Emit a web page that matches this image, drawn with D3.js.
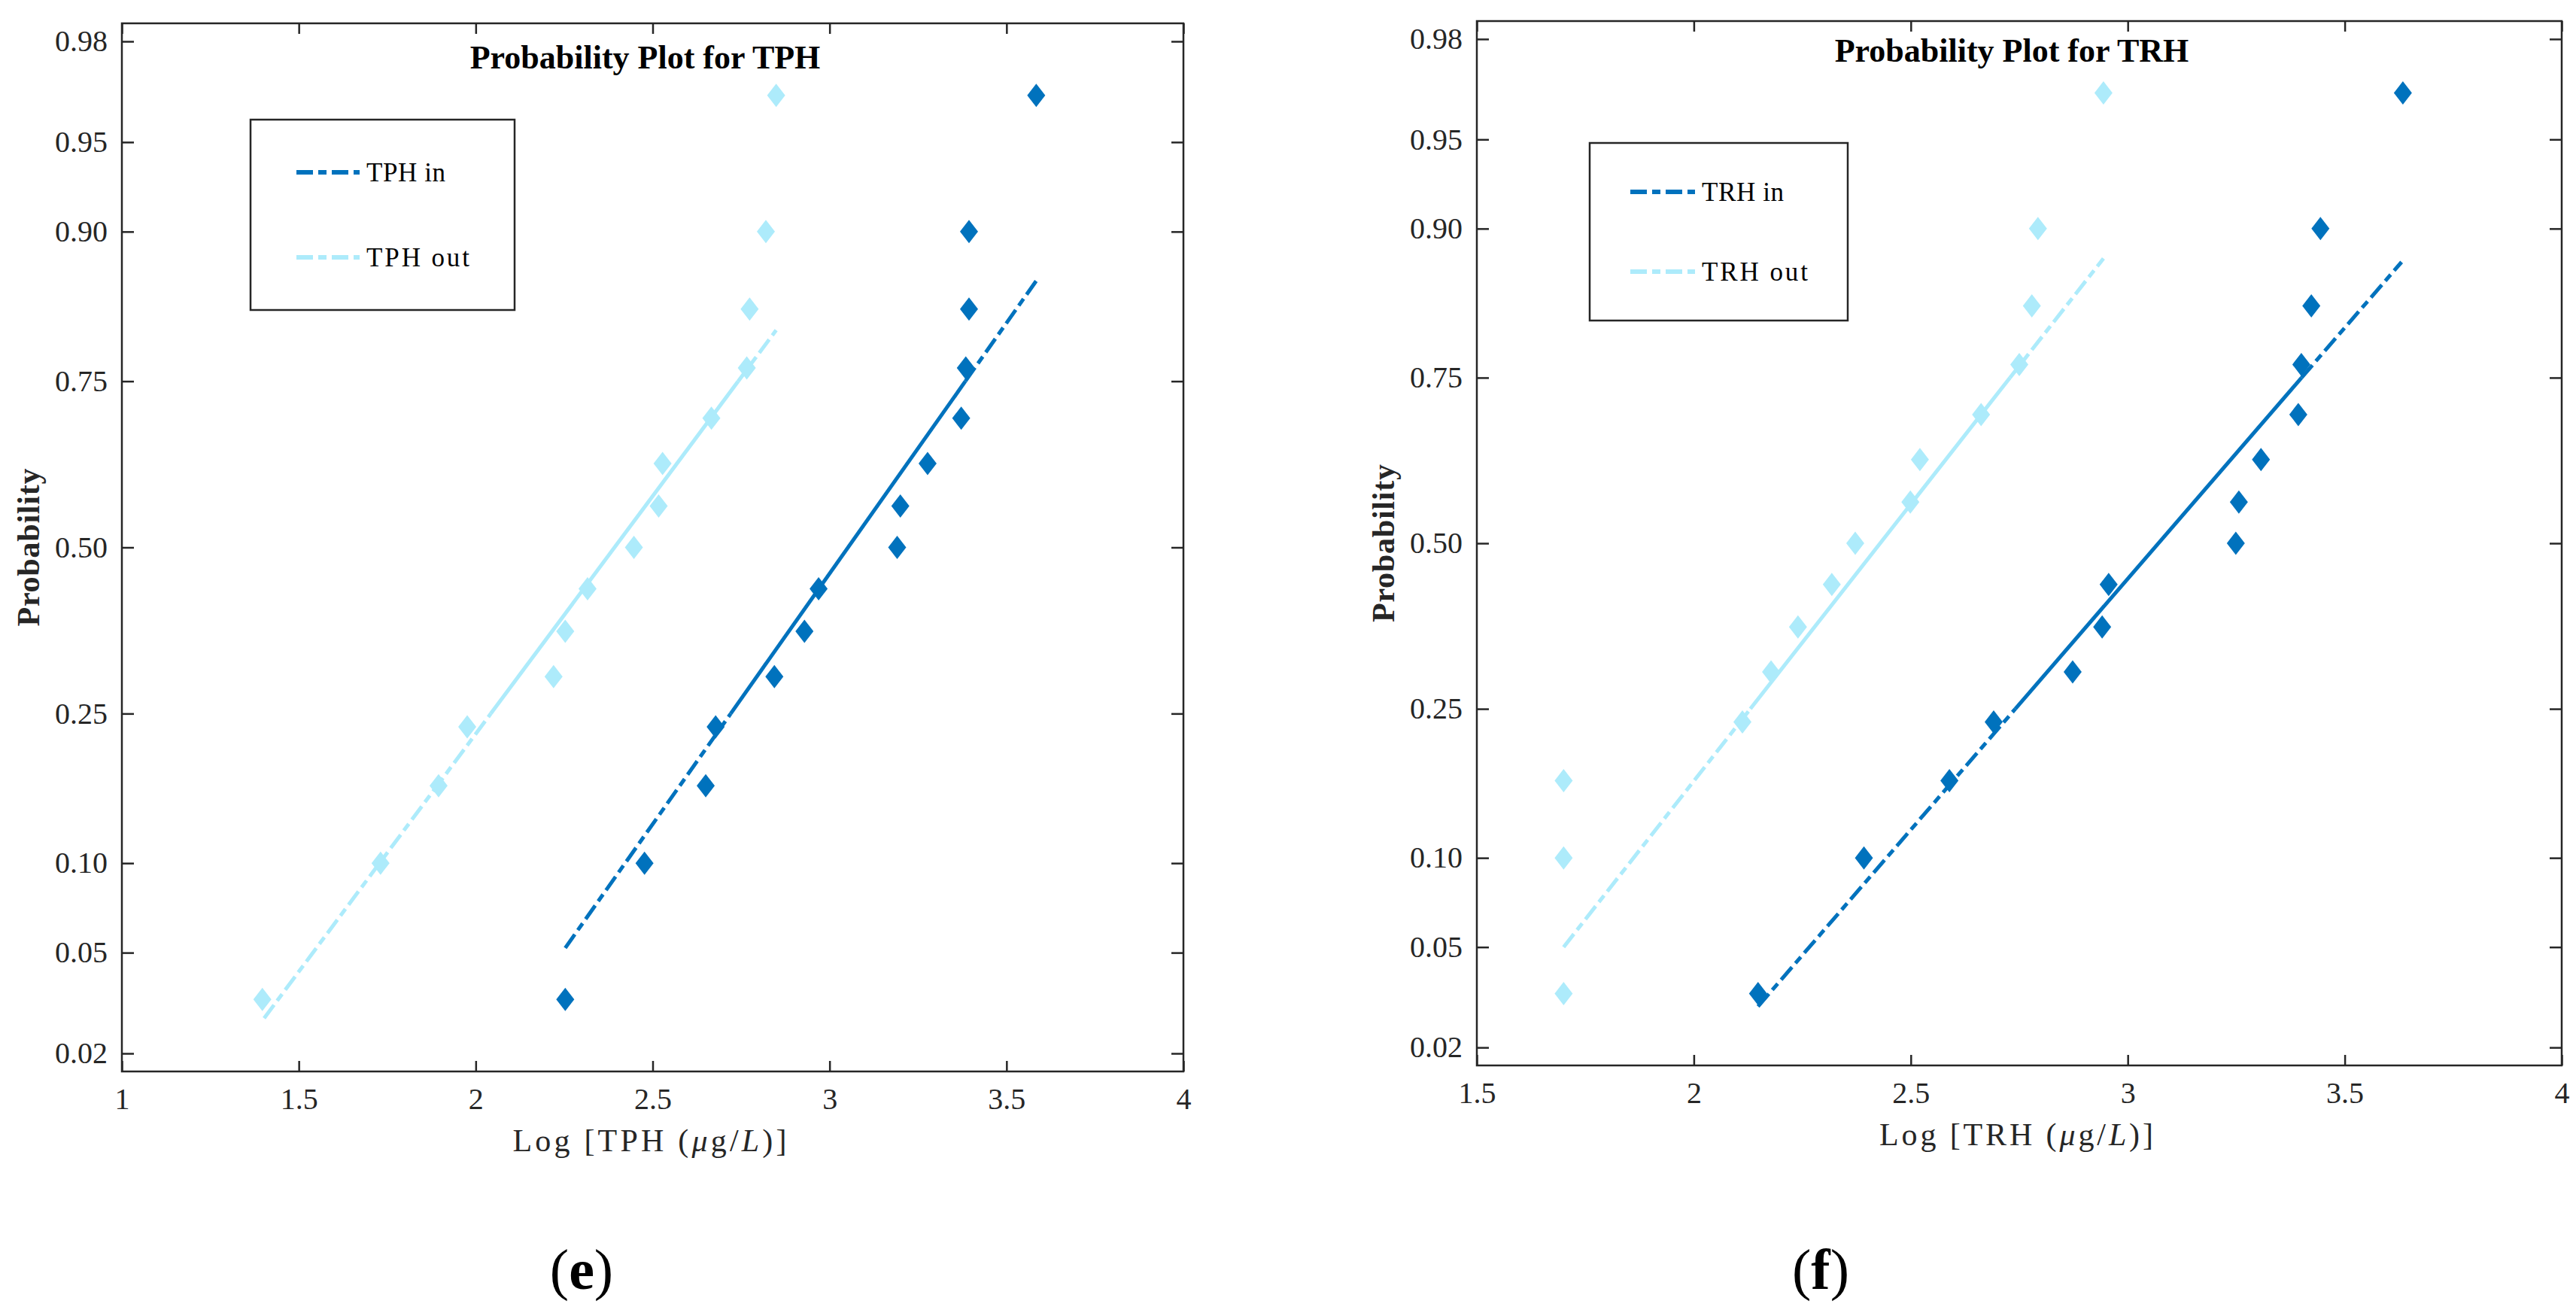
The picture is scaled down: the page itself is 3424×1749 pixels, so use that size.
<!DOCTYPE html>
<html>
<head>
<meta charset="utf-8">
<script src="https://cdn.jsdelivr.net/npm/d3@7"></script>
<style>
  html, body { margin: 0; padding: 0; background: #fff; }
  svg { display: block; }
  text { font-family: "Liberation Serif", "Times New Roman", serif; }
</style>
</head>
<body>
<svg id="chart" width="3424" height="1749"></svg>
<script>
// ---------------- DATA ----------------
// plotting positions (probabilities) shared by every series, 15 samples each
const probabilities = [0.0333, 0.1, 0.1667, 0.2333, 0.3, 0.3667, 0.4333, 0.5, 0.5667, 0.6333, 0.7, 0.7667, 0.8333, 0.9, 0.9667];

// Panel (e): Log[TPH]
const tphIn  = [2.253, 2.477, 2.650, 2.678, 2.844, 2.929, 2.969, 3.191, 3.200, 3.277, 3.372, 3.385, 3.394, 3.394, 3.584];
const tphOut = [1.397, 1.731, 1.895, 1.976, 2.220, 2.253, 2.316, 2.447, 2.517, 2.528, 2.666, 2.766, 2.774, 2.820, 2.849];
// reference lines: [x start, probability start, x end, probability end]
const tphInLine  = [2.253, 0.052, 3.590, 0.863];
const tphOutLine = [1.402, 0.028, 2.849, 0.811];

// Panel (f): Log[TRH]
const trhIn  = [2.148, 2.392, 2.589, 2.691, 2.873, 2.941, 2.956, 3.249, 3.256, 3.307, 3.393, 3.400, 3.423, 3.444, 3.634];
const trhOut = [1.700, 1.700, 1.700, 2.112, 2.178, 2.240, 2.318, 2.372, 2.499, 2.521, 2.662, 2.750, 2.779, 2.793, 2.944];
const trhInLine  = [2.148, 0.0296, 3.631, 0.874];
const trhOutLine = [1.700, 0.050, 2.944, 0.877];

// axis ticks
const yTickValues = [0.02, 0.05, 0.10, 0.25, 0.50, 0.75, 0.90, 0.95, 0.98];
const yTickLabels = ["0.02", "0.05", "0.10", "0.25", "0.50", "0.75", "0.90", "0.95", "0.98"];
const xTicksE = [1, 1.5, 2, 2.5, 3, 3.5, 4];
const xTickLabelsE = ["1", "1.5", "2", "2.5", "3", "3.5", "4"];
const xTicksF = [1.5, 2, 2.5, 3, 3.5, 4];
const xTickLabelsF = ["1.5", "2", "2.5", "3", "3.5", "4"];

const seriesNamesE = ["TPH in", "TPH out"];
const seriesNamesF = ["TRH in", "TRH out"];
const titles = ["Probability Plot for TPH", "Probability Plot for TRH"];
const panelLetters = ["e", "f"];

// ---------------- helpers ----------------
// inverse standard normal CDF (Acklam) -> normal probability paper scale
function probit(p) {
  const a = [-3.969683028665376e+01, 2.209460984245205e+02, -2.759285104469687e+02, 1.383577518672690e+02, -3.066479806614716e+01, 2.506628277459239e+00];
  const b = [-5.447609879822406e+01, 1.615858368580409e+02, -1.556989798598866e+02, 6.680131188771972e+01, -1.328068155288572e+01];
  const c = [-7.784894002430293e-03, -3.223964580411365e-01, -2.400758276161838e+00, -2.549732539343734e+00, 4.374664141464968e+00, 2.938163982698783e+00];
  const d = [7.784695709041462e-03, 3.224671290700398e-01, 2.445134137142996e+00, 3.754408661907416e+00];
  const plow = 0.02425, phigh = 1 - plow;
  let q, r;
  if (p < plow) {
    q = Math.sqrt(-2 * Math.log(p));
    return (((((c[0]*q+c[1])*q+c[2])*q+c[3])*q+c[4])*q+c[5]) / ((((d[0]*q+d[1])*q+d[2])*q+d[3])*q+1);
  } else if (p <= phigh) {
    q = p - 0.5; r = q*q;
    return (((((a[0]*r+a[1])*r+a[2])*r+a[3])*r+a[4])*r+a[5])*q / (((((b[0]*r+b[1])*r+b[2])*r+b[3])*r+b[4])*r+1);
  } else {
    q = Math.sqrt(-2 * Math.log(1 - p));
    return -(((((c[0]*q+c[1])*q+c[2])*q+c[3])*q+c[4])*q+c[5]) / ((((d[0]*q+d[1])*q+d[2])*q+d[3])*q+1);
  }
}

const COL_IN = "#0072BD";
const COL_OUT = "#ADEBFB";
const AXIS_COL = "#262626";
const DASH = "22,7,11,7";

const diamond = {
  draw(ctx, size) {
    const h = 15.5, w = 12;
    ctx.moveTo(0, -h); ctx.lineTo(w, 0); ctx.lineTo(0, h); ctx.lineTo(-w, 0); ctx.closePath();
  }
};

const svg = d3.select("#chart");

function drawPanel(cfg) {
  const x = d3.scaleLinear().domain(cfg.xDomain).range([cfg.left, cfg.right]);
  const zMax = 2.127;
  const y = d3.scaleLinear().domain([-zMax, zMax]).range([cfg.bottom, cfg.top]);
  const py = p => y(probit(p));

  const g = svg.append("g");

  // reference lines
  cfg.series.forEach(s => {
    const [x1, p1, x2, p2] = s.line;
    const z1 = probit(p1), z2 = probit(p2);
    const slope = (z2 - z1) / (x2 - x1);
    const xAt = z => x1 + (z - z1) / slope;
    const zq1 = probit(0.25), zq3 = probit(0.75);
    // dashed extensions
    g.append("line")
      .attr("x1", x(x1)).attr("y1", y(z1)).attr("x2", x(xAt(zq1))).attr("y2", y(zq1))
      .attr("stroke", s.color).attr("stroke-width", 5).attr("stroke-dasharray", DASH);
    g.append("line")
      .attr("x1", x(xAt(zq3))).attr("y1", y(zq3)).attr("x2", x(x2)).attr("y2", y(z2))
      .attr("stroke", s.color).attr("stroke-width", 5).attr("stroke-dasharray", DASH);
    // solid interquartile part
    g.append("line")
      .attr("x1", x(xAt(zq1))).attr("y1", y(zq1)).attr("x2", x(xAt(zq3))).attr("y2", y(zq3))
      .attr("stroke", s.color).attr("stroke-width", 5);
  });

  // markers
  cfg.series.forEach(s => {
    g.append("g").selectAll("path")
      .data(s.values.map((v, i) => ({ v, p: probabilities[i] })))
      .join("path")
      .attr("d", d3.symbol().type(diamond).size(1))
      .attr("transform", d => `translate(${x(d.v)},${py(d.p)})`)
      .attr("fill", s.color);
  });

  // axes (ticks pointing inward on all four sides)
  const fmtY = d => yTickLabels[yTickValues.indexOf(d)];
  const fmtX = d => cfg.xTickLabels[cfg.xTicks.indexOf(d)];
  const styleAxis = sel => {
    sel.selectAll("path").remove();
    sel.selectAll("line").attr("stroke", AXIS_COL).attr("stroke-width", 2.5);
    sel.selectAll("text").attr("fill", AXIS_COL).style("font-size", "40px")
      .style("font-family", '"Liberation Serif", serif');
  };
  g.append("g").attr("transform", `translate(${cfg.left},0)`)
    .call(d3.axisLeft(d3.scaleLinear().domain(y.domain()).range(y.range()))
      .tickValues(yTickValues.map(probit)).tickFormat((d, i) => yTickLabels[i])
      .tickSize(-16).tickPadding(19))
    .call(styleAxis);
  g.append("g").attr("transform", `translate(${cfg.right},0)`)
    .call(d3.axisRight(y).tickValues(yTickValues.map(probit)).tickFormat("").tickSize(-16))
    .call(styleAxis);
  g.append("g").attr("transform", `translate(0,${cfg.bottom})`)
    .call(d3.axisBottom(x).tickValues(cfg.xTicks).tickFormat(fmtX).tickSize(-14).tickPadding(22))
    .call(styleAxis);
  g.append("g").attr("transform", `translate(0,${cfg.top})`)
    .call(d3.axisTop(x).tickValues(cfg.xTicks).tickFormat("").tickSize(-14))
    .call(styleAxis);

  // box
  g.append("rect")
    .attr("x", cfg.left).attr("y", cfg.top)
    .attr("width", cfg.right - cfg.left).attr("height", cfg.bottom - cfg.top)
    .attr("fill", "none").attr("stroke", AXIS_COL).attr("stroke-width", 2.5);

  const cx = (cfg.left + cfg.right) / 2;

  // title
  g.append("text")
    .attr("x", cx - 10).attr("y", cfg.titleY)
    .attr("text-anchor", "middle")
    .style("font-size", "44px").style("font-weight", "bold").attr("fill", "#000")
    .text(cfg.title);

  // x label
  const xl = g.append("text")
    .attr("x", cx - 4).attr("y", cfg.bottom + 106)
    .attr("text-anchor", "middle")
    .style("font-size", "42px").attr("fill", AXIS_COL)
    .attr("textLength", 364).attr("lengthAdjust", "spacing");
  xl.append("tspan").text(`Log [${cfg.quantity} (`);
  xl.append("tspan").style("font-style", "italic").text("μ");
  xl.append("tspan").text("g/");
  xl.append("tspan").style("font-style", "italic").text("L");
  xl.append("tspan").text(")]");

  // y label
  g.append("text")
    .attr("transform", `translate(${cfg.left - 110},${(cfg.top + cfg.bottom) / 2}) rotate(-90)`)
    .attr("text-anchor", "middle")
    .style("font-size", "42px").style("font-weight", "bold").attr("fill", AXIS_COL)
    .attr("textLength", 210).attr("lengthAdjust", "spacing")
    .text("Probability");

  // legend
  const L = cfg.legend;
  g.append("rect")
    .attr("x", L.x0).attr("y", L.y0).attr("width", L.x1 - L.x0).attr("height", L.y1 - L.y0)
    .attr("fill", "#fff").attr("stroke", AXIS_COL).attr("stroke-width", 2.5);
  cfg.series.forEach((s, i) => {
    const ly = L.rows[i];
    g.append("line")
      .attr("x1", L.lineX0).attr("x2", L.lineX1).attr("y1", ly).attr("y2", ly)
      .attr("stroke", s.color).attr("stroke-width", 6).attr("stroke-dasharray", DASH);
    g.append("text")
      .attr("x", L.textX).attr("y", ly + 12)
      .style("font-size", "35px").attr("fill", "#000")
      .attr("textLength", L.textLen[i]).attr("lengthAdjust", "spacing")
      .text(s.name);
  });

  // panel letter
  const pl = svg.append("text")
    .attr("x", cfg.letterX).attr("y", 1713)
    .attr("text-anchor", "middle")
    .style("font-size", "76px").attr("fill", "#000");
  pl.append("tspan").text("(");
  pl.append("tspan").style("font-weight", "bold").text(cfg.letter);
  pl.append("tspan").text(")");
}

drawPanel({
  left: 162, right: 1573, top: 31, bottom: 1424,
  xDomain: [1, 4], xTicks: xTicksE, xTickLabels: xTickLabelsE,
  title: titles[0], titleY: 91, quantity: "TPH",
  series: [
    { name: seriesNamesE[0], values: tphIn, line: tphInLine, color: COL_IN },
    { name: seriesNamesE[1], values: tphOut, line: tphOutLine, color: COL_OUT }
  ],
  legend: { x0: 333, y0: 159, x1: 684, y1: 412, lineX0: 394, lineX1: 478, textX: 487, rows: [229, 342], textLen: [105, 137] },
  letter: panelLetters[0], letterX: 773
});

drawPanel({
  left: 1963, right: 3405, top: 28, bottom: 1416,
  xDomain: [1.5, 4], xTicks: xTicksF, xTickLabels: xTickLabelsF,
  title: titles[1], titleY: 82, quantity: "TRH",
  series: [
    { name: seriesNamesF[0], values: trhIn, line: trhInLine, color: COL_IN },
    { name: seriesNamesF[1], values: trhOut, line: trhOutLine, color: COL_OUT }
  ],
  legend: { x0: 2113, y0: 190, x1: 2456, y1: 426, lineX0: 2167, lineX1: 2253, textX: 2262, rows: [255, 361], textLen: [109, 141] },
  letter: panelLetters[1], letterX: 2420
});
</script>
</body>
</html>
